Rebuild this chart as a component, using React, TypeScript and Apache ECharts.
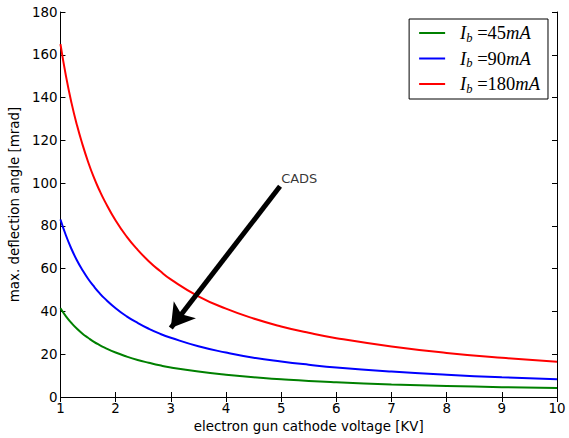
import React, { useEffect, useRef } from "react";
import * as echarts from "echarts";

const voltages = [1, 1.1, 1.2, 1.3, 1.4, 1.5, 1.6, 1.7, 1.8, 2, 2.2, 2.4, 2.6, 2.8, 3, 3.5, 4, 4.5, 5, 5.5, 6, 7, 8, 9, 10];
const green45 = [41.5, 37.7, 34.6, 31.9, 29.6, 27.7, 25.9, 24.4, 23.1, 20.8, 18.9, 17.3, 16, 14.8, 13.8, 11.9, 10.4, 9.2, 8.3, 7.5, 6.9, 5.9, 5.2, 4.6, 4.2];
const blue90 = [83, 75.5, 69.2, 63.8, 59.3, 55.3, 51.9, 48.8, 46.1, 41.5, 37.7, 34.6, 31.9, 29.6, 27.7, 23.7, 20.8, 18.4, 16.6, 15.1, 13.8, 11.9, 10.4, 9.2, 8.3];
const red180 = [165, 150, 137.5, 127, 118, 110, 103, 97, 91.7, 82.5, 75, 68.8, 63.5, 59, 55, 47.1, 41.3, 36.7, 33, 30, 27.5, 23.6, 20.6, 18.3, 16.5];
const seriesNames = ["45", "90", "180"];
const seriesColors = ["#008000", "#0000ff", "#ff0000"];
const arrowStart = [4.98, 98.5];
const arrowEnd = [3.0, 32.3];
const annotationText = "CADS";
const annotationPos = [5.0, 102];

const FONT = "DejaVu Sans";

export default function App() {
  const ref = useRef<HTMLDivElement>(null);
  useEffect(() => {
    const chart = echarts.init(ref.current!, null, { renderer: "svg" });
    const allData = [green45, blue90, red180];
    const axisCommon = {
      type: "value" as const,
      axisLine: { show: true, lineStyle: { color: "#000", width: 1 } },
      axisTick: { show: true, inside: true, length: 5, lineStyle: { color: "#000" } },
      splitLine: { show: false },
    };
    const lineSeries: any[] = allData.map((d, i) => ({
      type: "line",
      name: seriesNames[i],
      data: voltages.map((v, j) => [v, d[j]]),
      smooth: 0.5,
      symbol: "none",
      lineStyle: { color: seriesColors[i], width: 2 },
      itemStyle: { color: seriesColors[i] },
      z: 2,
    }));
    lineSeries.push({
      type: "scatter",
      name: "annot",
      data: [annotationPos],
      symbolSize: 0,
      silent: true,
      label: {
        show: true,
        formatter: annotationText,
        position: "right",
        distance: 0,
        color: "#000",
        fontFamily: FONT,
        fontSize: 13,
      },
      markLine: {
        silent: true,
        symbol: ["none", "arrow"],
        symbolSize: [21, 23],
        label: { show: false },
        lineStyle: { color: "#000", width: 5, type: "solid" },
        data: [[{ coord: arrowStart }, { coord: arrowEnd }]],
        z: 5,
      },
    });
    const LH = 20;
    const FS = 18.5;
    const richBase = {
      p: { fontFamily: "Liberation Serif", fontSize: FS, color: "#000", lineHeight: LH, padding: [0, 0, 0, 10] },
      i: { fontFamily: "Liberation Serif", fontStyle: "italic", fontSize: FS, color: "#000", lineHeight: LH },
      s: { fontFamily: "Liberation Serif", fontStyle: "italic", fontSize: 12.5, color: "#000", lineHeight: LH, padding: [9, 0, 0, 0] },
      n: { fontFamily: "Liberation Serif", fontSize: FS, color: "#000", lineHeight: LH },
    };
    chart.setOption({
      animation: false,
      backgroundColor: "#fff",
      grid: { left: 59, right: 12, top: 12, bottom: 41 },
      legend: {
        data: seriesNames,
        orient: "vertical",
        right: 21,
        top: 19,
        padding: [3, 8, 4, 10],
        itemGap: 3.5,
        itemWidth: 26,
        itemHeight: 16,
        borderColor: "#000",
        borderWidth: 1,
        borderRadius: 0,
        backgroundColor: "#fff",
        icon: "path://M0,7 L26,7 L26,9 L0,9 Z",
        formatter: (name: string) => `{p|}{i|I}{s|b}{n| =${name}}{i|mA}`,
        textStyle: { rich: richBase },
      },
      xAxis: [
        {
          ...axisCommon,
          min: 1,
          max: 10,
          interval: 1,
          position: "bottom",
          name: "electron gun cathode voltage [KV]",
          nameLocation: "middle",
          nameGap: 23,
          nameTextStyle: { fontFamily: FONT, fontSize: 13.4, color: "#000" },
          axisLabel: { fontFamily: FONT, fontSize: 13.4, color: "#000", margin: 5 },
        },
        {
          ...axisCommon,
          min: 1,
          max: 10,
          interval: 1,
          position: "top",
          axisLabel: { show: false },
        },
      ],
      yAxis: [
        {
          ...axisCommon,
          min: 0,
          max: 180,
          interval: 20,
          position: "left",
          name: "max. deflection angle [mrad]",
          nameLocation: "middle",
          nameGap: 28.5,
          nameTextStyle: { fontFamily: FONT, fontSize: 13.4, color: "#000" },
          axisLabel: { fontFamily: FONT, fontSize: 13.4, color: "#000", margin: 3 },
        },
        {
          ...axisCommon,
          min: 0,
          max: 180,
          interval: 20,
          position: "right",
          axisLabel: { show: false },
        },
      ],
      series: lineSeries,
    });
    return () => chart.dispose();
  }, []);
  return <div ref={ref} style={{ width: 569, height: 438, position: "absolute", left: 0, top: 0 }} />;
}
